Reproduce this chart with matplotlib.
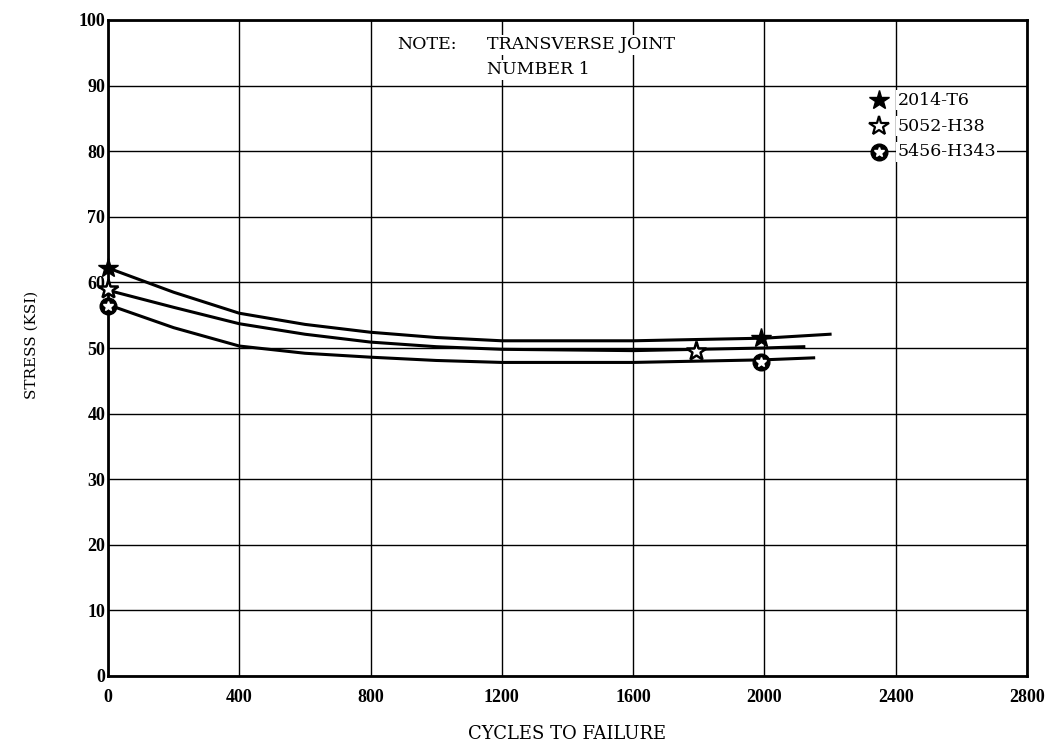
import matplotlib.pyplot as plt

# curves (cycles, stress ksi)
x_2014 = [0, 200, 400, 600, 800, 1000, 1200, 1600, 2000, 2200]
y_2014 = [62.2, 58.5, 55.3, 53.6, 52.4, 51.6, 51.1, 51.1, 51.5, 52.1]
x_5052 = [0, 200, 400, 600, 800, 1000, 1200, 1600, 2000, 2120]
y_5052 = [58.8, 56.2, 53.7, 52.1, 50.9, 50.2, 49.8, 49.6, 50.0, 50.2]
x_5456 = [0, 200, 400, 600, 800, 1000, 1200, 1600, 2000, 2150]
y_5456 = [56.6, 53.1, 50.3, 49.2, 48.6, 48.1, 47.8, 47.8, 48.2, 48.5]

# test points
pts_2014_x, pts_2014_y = [0, 1990], [62.2, 51.6]
pts_5052_x, pts_5052_y = [0, 1790], [59.0, 49.5]
pts_5456_x, pts_5456_y = [0, 1990], [56.4, 47.8]

labels = ['2014-T6', '5052-H38', '5456-H343']
legend_y = [87.8, 83.8, 79.9]

xticks = [0, 400, 800, 1200, 1600, 2000, 2400, 2800]
yticks = [0, 10, 20, 30, 40, 50, 60, 70, 80, 90, 100]

plt.rcParams['font.family'] = ['DejaVu Serif']

fig = plt.figure(figsize=(10.46, 7.46), dpi=100)
ax = fig.add_axes([108 / 1046, 1 - 676 / 746, 919 / 1046, 656 / 746])

ax.set_xlim(0, 2800)
ax.set_ylim(0, 100)
ax.set_xticks(xticks)
ax.set_yticks(yticks)
# tick numbers are a narrow bold face in the original
ax.set_xticklabels([str(t) for t in xticks], fontsize=13, fontweight='bold',
                   family='Liberation Serif')
ax.set_yticklabels([str(t) for t in yticks], fontsize=13, fontweight='bold',
                   family='Liberation Serif')
ax.tick_params(axis='x', length=0, pad=9)
ax.tick_params(axis='y', length=0, pad=2)
ax.grid(True, color='black', linewidth=1.0)
ax.set_axisbelow(True)
for s in ax.spines.values():
    s.set_linewidth(2)

lw = 2.2
ax.plot(x_2014, y_2014, color='black', linewidth=lw)
ax.plot(x_5052, y_5052, color='black', linewidth=lw)
ax.plot(x_5456, y_5456, color='black', linewidth=lw)

ax.plot(pts_5456_x, pts_5456_y, 'o', color='black', markersize=12, clip_on=False, zorder=5)
ax.plot(pts_5456_x, pts_5456_y, '*', color='white', markersize=7, clip_on=False, zorder=6)
ax.plot(pts_5052_x, pts_5052_y, '*', markerfacecolor='white', markeredgecolor='black',
        markeredgewidth=1.8, markersize=15, clip_on=False, zorder=7)
ax.plot(pts_2014_x, pts_2014_y, '*', color='black', markersize=15, clip_on=False, zorder=8)

# legend drawn by hand, like the original
lx = 2350
ax.plot([lx], [legend_y[0]], '*', color='black', markersize=15, zorder=8)
ax.plot([lx], [legend_y[1]], '*', markerfacecolor='white', markeredgecolor='black',
        markeredgewidth=1.6, markersize=15, zorder=8)
ax.plot([lx], [legend_y[2]], 'o', color='black', markersize=12, zorder=8)
ax.plot([lx], [legend_y[2]], '*', color='white', markersize=7, zorder=9)
for yy, lab in zip(legend_y, labels):
    ax.text(lx + 55, yy, lab, fontsize=12.5, va='center', ha='left', zorder=9,
            bbox=dict(facecolor='white', edgecolor='none', pad=1))

ax.text(880, 96.2, 'NOTE:', fontsize=12.5, va='center', ha='left',
        bbox=dict(facecolor='white', edgecolor='none', pad=1))
ax.text(1155, 96.2, 'TRANSVERSE JOINT', fontsize=12.5, va='center', ha='left',
        bbox=dict(facecolor='white', edgecolor='none', pad=1))
ax.text(1155, 92.4, 'NUMBER 1', fontsize=12.5, va='center', ha='left',
        bbox=dict(facecolor='white', edgecolor='none', pad=1))

fig.text(567 / 1046, 1 - 734 / 746, 'CYCLES TO FAILURE', fontsize=13,
         ha='center', va='center')
fig.text(32 / 1046, 1 - 345 / 746, 'STRESS (KSI)', fontsize=11,
         ha='center', va='center', rotation=90)

fig.savefig('out.png', dpi=100)
